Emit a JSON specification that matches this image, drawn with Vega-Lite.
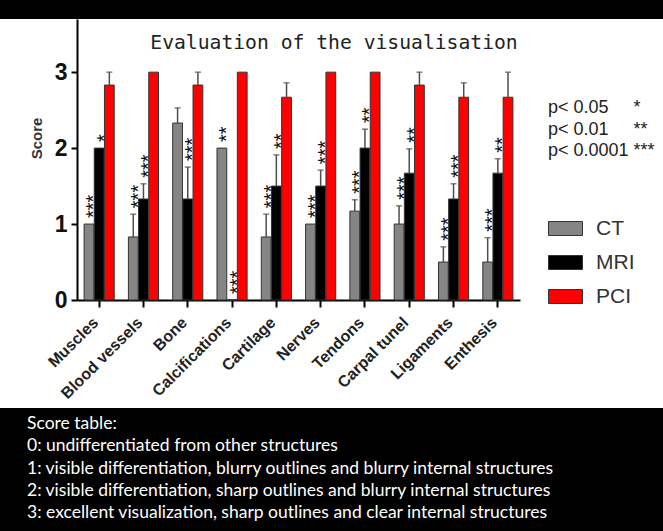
{
  "$schema": "https://vega.github.io/schema/vega-lite/v6.json",
  "background": "white",
  "padding": 0,
  "spacing": 0,
  "config": {
    "font": "Liberation Sans",
    "view": {"stroke": null},
    "concat": {"spacing": 0},
    "axisX": {"domainColor": "#000", "domainWidth": 2, "tickColor": "#000", "tickWidth": 2, "tickSize": 7, "labelAngle": -45, "labelFontSize": 16, "labelFontWeight": "bold", "labelColor": "#222", "labelPadding": 7, "labelOffset": -9, "labelOverlap": false, "labelLimit": 200, "grid": false},
    "axisY": {"domainColor": "#000", "domainWidth": 2, "tickColor": "#000", "tickWidth": 2, "tickSize": 6, "labelFontSize": 23, "labelFontWeight": "bold", "labelColor": "#111", "labelPadding": 4, "grid": false, "titleFontSize": 15, "titleFontWeight": "bold", "titleColor": "#333"}
  },
  "vconcat": [
    {
      "width": 663, "height": 19,
      "view": {"fill": "#000", "stroke": null},
      "data": {"values": [{"v": 0.5}]},
      "mark": {"type": "text", "fontSize": 1},
      "encoding": {
        "x": {"field": "v", "type": "quantitative", "axis": null, "scale": {"domain": [0, 1]}},
        "y": {"field": "v", "type": "quantitative", "axis": null, "scale": {"domain": [0, 1]}},
        "text": {"value": ""}
      }
    },
    {
      "spacing": 0,
      "bounds": "flush",
      "hconcat": [
        {
          "width": 77, "height": 389,
          "view": {"stroke": null},
          "data": {"values": [{"v": 0.5}]},
          "mark": {"type": "text", "fontSize": 1},
          "encoding": {
            "x": {"field": "v", "type": "quantitative", "axis": null, "scale": {"domain": [0, 1]}},
            "y": {"field": "v", "type": "quantitative", "axis": null, "scale": {"domain": [0, 1]}},
            "text": {"value": ""}
          }
        },
        {
          "width": 443, "height": 281,
          "view": {"stroke": null},
          "title": {"text": "Evaluation of the visualisation", "font": "DejaVu Sans Mono", "fontSize": 19.7, "fontWeight": "normal", "color": "#222", "anchor": "middle", "frame": "group", "offset": 0, "baseline": "alphabetic", "dx": 35.5, "dy": 50},
          "data": {"values": [
            {"cat": "Muscles", "series": "CT", "value": 1.0, "hi": 1.0, "sig": "***"},
            {"cat": "Muscles", "series": "MRI", "value": 2.0, "hi": 2.0, "sig": "*"},
            {"cat": "Muscles", "series": "PCI", "value": 2.83, "hi": 3.0, "sig": ""},
            {"cat": "Blood vessels", "series": "CT", "value": 0.83, "hi": 1.13, "sig": "***"},
            {"cat": "Blood vessels", "series": "MRI", "value": 1.33, "hi": 1.53, "sig": "***"},
            {"cat": "Blood vessels", "series": "PCI", "value": 3.0, "hi": 3.0, "sig": ""},
            {"cat": "Bone", "series": "CT", "value": 2.33, "hi": 2.53, "sig": ""},
            {"cat": "Bone", "series": "MRI", "value": 1.33, "hi": 1.75, "sig": "***"},
            {"cat": "Bone", "series": "PCI", "value": 2.83, "hi": 3.0, "sig": ""},
            {"cat": "Calcifications", "series": "CT", "value": 2.0, "hi": 2.0, "sig": "**"},
            {"cat": "Calcifications", "series": "MRI", "value": 0, "hi": 0, "sig": "***"},
            {"cat": "Calcifications", "series": "PCI", "value": 3.0, "hi": 3.0, "sig": ""},
            {"cat": "Cartilage", "series": "CT", "value": 0.83, "hi": 1.13, "sig": "***"},
            {"cat": "Cartilage", "series": "MRI", "value": 1.5, "hi": 1.91, "sig": "**"},
            {"cat": "Cartilage", "series": "PCI", "value": 2.67, "hi": 2.86, "sig": ""},
            {"cat": "Nerves", "series": "CT", "value": 1.0, "hi": 1.0, "sig": "***"},
            {"cat": "Nerves", "series": "MRI", "value": 1.5, "hi": 1.71, "sig": "***"},
            {"cat": "Nerves", "series": "PCI", "value": 3.0, "hi": 3.0, "sig": ""},
            {"cat": "Tendons", "series": "CT", "value": 1.17, "hi": 1.32, "sig": "***"},
            {"cat": "Tendons", "series": "MRI", "value": 2.0, "hi": 2.25, "sig": "**"},
            {"cat": "Tendons", "series": "PCI", "value": 3.0, "hi": 3.0, "sig": ""},
            {"cat": "Carpal tunel", "series": "CT", "value": 1.0, "hi": 1.24, "sig": "***"},
            {"cat": "Carpal tunel", "series": "MRI", "value": 1.67, "hi": 1.99, "sig": "**"},
            {"cat": "Carpal tunel", "series": "PCI", "value": 2.83, "hi": 3.0, "sig": ""},
            {"cat": "Ligaments", "series": "CT", "value": 0.5, "hi": 0.7, "sig": "***"},
            {"cat": "Ligaments", "series": "MRI", "value": 1.33, "hi": 1.53, "sig": "***"},
            {"cat": "Ligaments", "series": "PCI", "value": 2.67, "hi": 2.86, "sig": ""},
            {"cat": "Enthesis", "series": "CT", "value": 0.5, "hi": 0.82, "sig": "***"},
            {"cat": "Enthesis", "series": "MRI", "value": 1.67, "hi": 1.86, "sig": "**"},
            {"cat": "Enthesis", "series": "PCI", "value": 2.67, "hi": 3.0, "sig": ""}
          ]},
          "encoding": {
            "x": {"field": "cat", "type": "nominal", "sort": null, "title": null, "scale": {"paddingInner": 0.32, "paddingOuter": 0.16}},
            "xOffset": {"field": "series", "type": "nominal", "sort": ["CT", "MRI", "PCI"], "scale": {"paddingInner": 0.04}}
          },
          "layer": [
            {
              "mark": {"type": "bar", "stroke": "#333", "strokeWidth": 1},
              "encoding": {
                "y": {"field": "value", "type": "quantitative", "title": "Score", "scale": {"domain": [0, 3.7], "nice": false}, "axis": {"values": [0, 1, 2, 3], "format": "d", "titleX": -33, "titleY": 119}},
                "color": {"field": "series", "type": "nominal", "sort": ["CT", "MRI", "PCI"], "scale": {"domain": ["CT", "MRI", "PCI"], "range": ["#858585", "#000000", "#ff0000"]},
                  "legend": {"orient": "none", "legendX": 548, "legendY": 99, "padding": 0,
                    "title": ["p< 0.05\u00a0\u00a0\u00a0\u00a0\u00a0*", "p< 0.01\u00a0\u00a0\u00a0\u00a0\u00a0**", "p< 0.0001\u00a0***"],
                    "titleFont": "Liberation Sans", "titleFontSize": 18, "titleFontWeight": "normal", "titleColor": "#222", "titleLineHeight": 21.5, "titlePadding": 51,
                    "symbolType": "M-1,-0.41H1V0.41H-1Z", "symbolSize": 1156, "symbolStrokeColor": "#333", "symbolStrokeWidth": 1, "symbolOpacity": 1,
                    "labelFont": "Liberation Sans", "labelFontSize": 21, "labelColor": "#333", "labelOffset": 13, "rowPadding": 6, "labelLimit": 200}}
              }
            },
            {
              "transform": [{"filter": "datum.hi > datum.value"}],
              "mark": {"type": "rule", "color": "#4d4d4d", "strokeWidth": 1.5},
              "encoding": {
                "y": {"field": "value", "type": "quantitative", "title": "Score"},
                "y2": {"field": "hi"}
              }
            },
            {
              "transform": [{"filter": "datum.hi > datum.value"}],
              "mark": {"type": "tick", "color": "#4d4d4d", "thickness": 1.5, "size": 6},
              "encoding": {
                "y": {"field": "hi", "type": "quantitative", "title": "Score"}
              }
            },
            {
              "transform": [{"filter": "datum.sig != ''"}],
              "mark": {"type": "text", "angle": 270, "align": "left", "baseline": "alphabetic", "dx": 6, "dy": 11.5, "fontSize": 20, "font": "Liberation Sans", "color": "#111"},
              "encoding": {
                "y": {"field": "hi", "type": "quantitative", "title": "Score"},
                "text": {"field": "sig"}
              }
            }
          ]
        }
      ]
    },
    {
      "width": 663, "height": 123,
      "view": {"fill": "#000", "stroke": null},
      "data": {"values": [
        {"line": 0, "text": "Score table:"},
        {"line": 1, "text": "0: undifferentiated from other structures"},
        {"line": 2, "text": "1: visible differentiation, blurry outlines and blurry internal structures"},
        {"line": 3, "text": "2: visible differentiation, sharp outlines and blurry internal structures"},
        {"line": 4, "text": "3: excellent visualization, sharp outlines and clear internal structures"}
      ]},
      "mark": {"type": "text", "align": "left", "baseline": "middle", "font": "Lato", "fontSize": 17.5, "color": "#fff", "dx": 27, "dy": -1},
      "encoding": {
        "x": {"datum": 0, "type": "quantitative", "axis": null, "scale": {"domain": [0, 1]}},
        "y": {"field": "line", "type": "ordinal", "axis": null, "scale": {"type": "point", "padding": 0.75}},
        "text": {"field": "text"}
      }
    }
  ]
}
